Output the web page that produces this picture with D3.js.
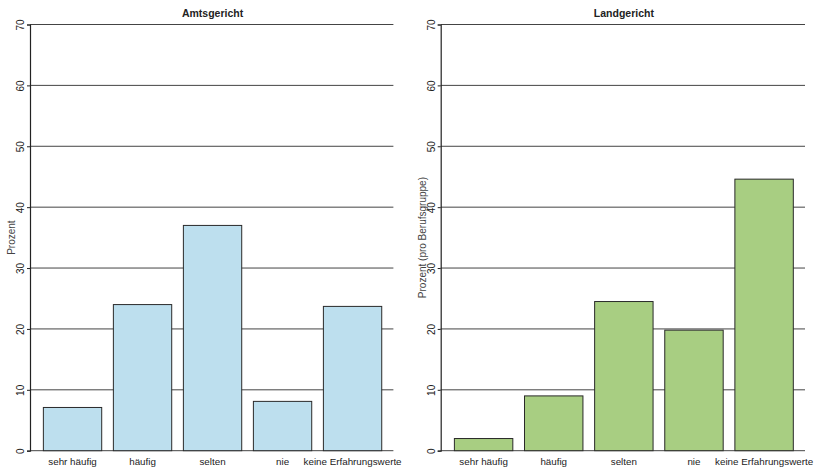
<!DOCTYPE html>
<html>
<head>
<meta charset="utf-8">
<script src="https://cdn.jsdelivr.net/npm/d3@7"></script>
<style>
  body { margin: 0; background: #fff; }
  text { font-family: "Liberation Sans", Arial, sans-serif; fill: #222; }
</style>
</head>
<body>
<svg></svg>
<script>
const width = 814;
const height = 469;

/* data */
const categories = ['sehr häufig', 'häufig', 'selten', 'nie', 'keine Erfahrungswerte'];
const amtsgericht = [7.1, 24.0, 37.0, 8.1, 23.7];
const landgericht = [2.0, 9.0, 24.5, 19.8, 44.6];
const yTicks = [0, 10, 20, 30, 40, 50, 60, 70];

const panels = [
  { title: 'Amtsgericht', values: amtsgericht, fill: '#bddfee', ylabel: 'Prozent',
    x0: 31.7, x1: 393.4, axisX: 30, labelX: 12 },
  { title: 'Landgericht', values: landgericht, fill: '#a8ce82', ylabel: 'Prozent (pro Berufsgruppe)',
    x0: 442.7, x1: 805, axisX: 440.7, labelX: 423 }
];

const plotTop = 24.5, plotBottom = 450.7;

const svg = d3.select('svg')
  .attr('width', width)
  .attr('height', height);

const yScale = d3.scaleLinear()
  .domain([0, 70])
  .range([plotBottom, plotTop]);

panels.forEach(p => {
  const g = svg.append('g');

  /* bar positions like R barplot: width 1, space 0.2 */
  const unit = (p.x1 - p.x0) / (categories.length * 1.2 + 0.2);
  const xScale = d3.scaleBand()
    .domain(categories)
    .range([p.x0 + 0.1 * unit, p.x1 - 0.1 * unit])
    .paddingInner(0.2 / 1.2)
    .paddingOuter(0.1 / 1.2);

  /* gridlines */
  g.selectAll('line.grid')
    .data(yTicks)
    .enter()
    .append('line')
      .classed('grid', true)
      .attr('x1', p.axisX)
      .attr('x2', p.x1)
      .attr('y1', d => yScale(d))
      .attr('y2', d => yScale(d))
      .attr('stroke', '#444')
      .attr('stroke-width', 1);

  /* bars */
  g.selectAll('rect')
    .data(p.values)
    .enter()
    .append('rect')
      .attr('x', (d, i) => xScale(categories[i]))
      .attr('width', xScale.bandwidth())
      .attr('y', d => yScale(d))
      .attr('height', d => yScale(0) - yScale(d))
      .attr('fill', p.fill)
      .attr('stroke', '#2a2a2a')
      .attr('stroke-width', 1);

  /* y axis */
  const yAxis = d3.axisLeft(yScale)
    .tickValues(yTicks)
    .tickSize(3);

  const ax = g.append('g')
    .attr('transform', `translate(${p.axisX},0)`)
    .attr('font-family', null)
    .call(yAxis);
  ax.select('.domain').attr('stroke', '#222').attr('stroke-width', 1.2);
  ax.selectAll('.tick line').attr('stroke', '#222');
  ax.selectAll('.tick text')
    .attr('transform', 'rotate(-90)')
    .attr('x', 0)
    .attr('y', -6)
    .attr('dy', 0)
    .style('text-anchor', 'middle')
    .style('font-size', '10px')
    .style('fill', '#222');

  /* x labels */
  g.selectAll('text.cat')
    .data(categories)
    .enter()
    .append('text')
      .classed('cat', true)
      .attr('x', d => xScale(d) + xScale.bandwidth() / 2)
      .attr('y', 465)
      .style('text-anchor', 'middle')
      .style('font-size', '9.8px')
      .text(d => d);

  /* title */
  g.append('text')
    .attr('x', (p.x0 + p.x1) / 2)
    .attr('y', 17)
    .style('text-anchor', 'middle')
    .style('font-size', '10.5px')
    .style('font-weight', 'bold')
    .text(p.title);

  /* y label */
  g.append('text')
    .attr('transform', `translate(${p.labelX + 3}, ${(plotTop + plotBottom) / 2}) rotate(-90)`)
    .style('text-anchor', 'middle')
    .style('font-size', '10px')
    .style('fill', '#444')
    .text(p.ylabel);
});
</script>
</body>
</html>
